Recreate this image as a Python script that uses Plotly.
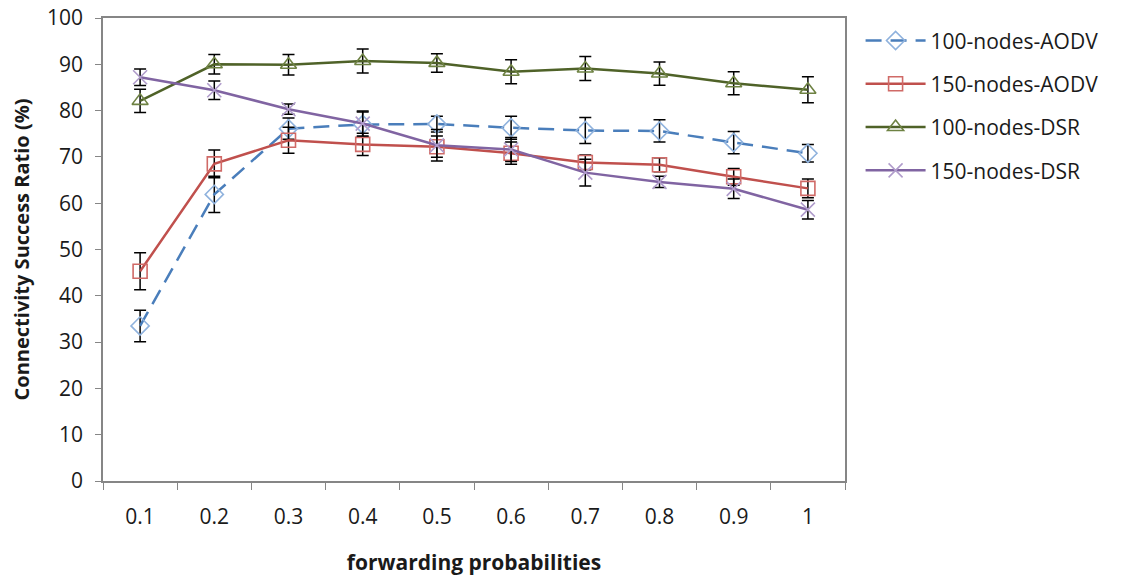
import plotly.graph_objects as go

# Forwarding probabilities (category axis)
probabilities = ["0.1", "0.2", "0.3", "0.4", "0.5", "0.6", "0.7", "0.8", "0.9", "1"]

# Connectivity success ratio (%) per series, with symmetric error margins
aodv_100 = [33.5, 61.9, 76.1, 77.0, 77.1, 76.3, 75.7, 75.6, 73.1, 70.8]
aodv_100_err = [3.4, 3.9, 2.3, 2.7, 1.7, 2.5, 2.8, 2.4, 2.4, 1.9]

aodv_150 = [45.3, 68.5, 73.6, 72.7, 72.2, 70.8, 68.8, 68.3, 65.7, 63.2]
aodv_150_err = [4.0, 3.0, 2.8, 2.4, 2.3, 2.4, 1.6, 1.5, 1.8, 2.0]

dsr_100 = [82.1, 90.0, 89.9, 90.7, 90.3, 88.4, 89.1, 88.0, 85.9, 84.5]
dsr_100_err = [2.5, 2.1, 2.2, 2.6, 2.0, 2.6, 2.6, 2.5, 2.5, 2.8]

dsr_150 = [87.2, 84.4, 80.3, 77.2, 72.5, 71.6, 66.6, 64.6, 63.1, 58.6]
dsr_150_err = [1.8, 2.0, 1.1, 2.7, 3.4, 2.6, 2.9, 1.2, 2.1, 2.0]

series = [
    ("100-nodes-AODV", aodv_100, aodv_100_err, "#4A7EBB", "#8FB2DD", "diamond-open", "16px,9px"),
    ("150-nodes-AODV", aodv_150, aodv_150_err, "#C0504D", "#D06A67", "square-open", "solid"),
    ("100-nodes-DSR", dsr_100, dsr_100_err, "#4F6228", "#6E8243", "triangle-up-open", "solid"),
    ("150-nodes-DSR", dsr_150, dsr_150_err, "#8064A2", "#B09CCB", "x-thin-open", "solid"),
]

FONT = "Open Sans"
TEXT = "#1a1a1a"

fig = go.Figure()
for i, (name, vals, errs, line_c, mark_c, sym, dash) in enumerate(series):
    fig.add_trace(go.Scatter(
        x=probabilities, y=vals, name=name, mode="lines+markers",
        legendgroup=f"g{i}",
        line=dict(color=line_c, width=2.5, dash=dash),
        marker=dict(symbol=sym, size=14, color=mark_c,
                    line=dict(color=mark_c, width=1.6)),
        error_y=dict(type="data", array=errs, visible=True,
                     color="black", thickness=1.5, width=6),
    ))

axis_grey = "#868686"
fig.update_layout(
    width=1124, height=576,
    margin=dict(l=103, r=279, t=18, b=95),
    paper_bgcolor="white", plot_bgcolor="white",
    font=dict(family=FONT, size=21, color=TEXT),
    showlegend=True,
    legend=dict(x=1.021, xanchor="left", y=0.995, yanchor="top",
                traceorder="grouped", tracegroupgap=13,
                font=dict(family=FONT, size=21, color=TEXT),
                bgcolor="rgba(0,0,0,0)", itemwidth=60),
    xaxis=dict(
        type="category", range=[-0.5, 9.5], automargin=False,
        showgrid=False, zeroline=False,
        showline=True, mirror=True, linecolor=axis_grey, linewidth=1.5,
        ticks="outside", tickson="boundaries", ticklen=7,
        tickcolor=axis_grey, tickwidth=1.3,
        ticklabelstandoff=16,
        title=dict(text="<b>forwarding probabilities</b>", standoff=26,
                   font=dict(family=FONT, size=21, color=TEXT)),
    ),
    yaxis=dict(
        range=[0, 100], dtick=10, automargin=False,
        showgrid=False, zeroline=False,
        showline=True, mirror=True, linecolor=axis_grey, linewidth=1.5,
        ticks="outside", ticklen=6, tickcolor=axis_grey, tickwidth=1.3,
        ticklabelstandoff=8,
        title=dict(text="<b>Connectivity Success Ratio (%)</b>", standoff=12,
                   font=dict(family=FONT, size=20, color=TEXT)),
    ),
)

fig.write_html("out.html")
